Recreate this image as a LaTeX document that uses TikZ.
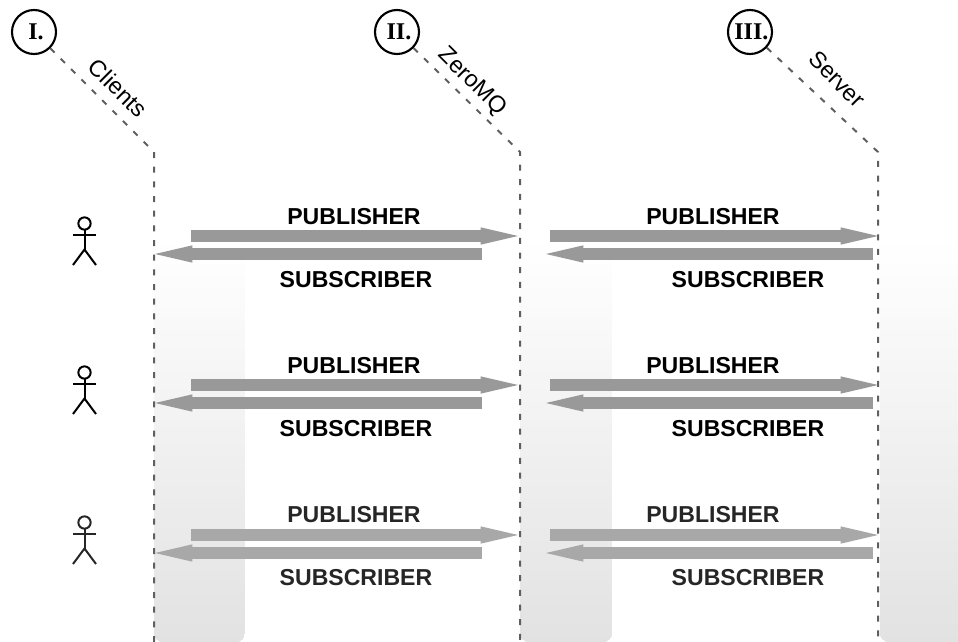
\documentclass[tikz,border=0pt]{standalone}
\usepackage{fontspec}
\setmainfont{Liberation Sans}
\newfontfamily\numfont{Liberation Serif}
\usetikzlibrary{arrows.meta}
\definecolor{rowA}{HTML}{999999}
\definecolor{rowB}{HTML}{999999}
\definecolor{rowC}{HTML}{A8A8A8}
\definecolor{inkA}{HTML}{000000}
\definecolor{inkB}{HTML}{000000}
\definecolor{inkC}{HTML}{262626}
\definecolor{dashgray}{HTML}{5F5F5F}
\definecolor{fadegray}{HTML}{E2E2E2}
\tikzset{
  stage/.style={circle,draw=black,line width=1.6pt,inner sep=0pt,minimum size=33pt,font=\numfont\bfseries\fontsize{18pt}{18pt}\selectfont},
  lifeline/.style={draw=dashgray,line width=1.5pt,dash pattern=on 4.5pt off 6.5pt},
  title/.style={rotate=-45,font=\fontsize{17.5pt}{17.5pt}\selectfont,inner sep=0pt},
  role/.style={font=\bfseries\fontsize{17.3pt}{17.3pt}\selectfont,inner sep=0pt},
  flow/.style={line width=9pt,-{Triangle[length=28pt,width=13pt,line width=0pt]}},
  actor/.style={line width=1.5pt},
}
\begin{document}
\begin{tikzpicture}[x=0.75pt,y=-0.75pt]
\useasboundingbox (0,0) rectangle (958,642);
% background bands: a linear fade built from overlapping fills
\foreach \xa/\xb in {154/245,520/612,880/990}{
  \begin{scope}
    \clip[rounded corners=7.5pt] (\xa,200) rectangle (\xb,642);
    \foreach \s in {0,...,66}{
      \pgfmathsetmacro{\ya}{240+6*\s}
      \pgfmathsetmacro{\pct}{100-\s*1.5}
      \fill[white!\pct!fadegray] (\xa,\ya) rectangle (\xb,642);
    }
  \end{scope}
}
% headers
\node[stage] (c1) at (34,32) {\hspace{3pt}I.};
\node[stage] (c2) at (397,32) {\hspace{3pt}II.};
\node[stage] (c3) at (750,32) {\hspace{2pt}III.};
\coordinate (k1) at (154,152); \coordinate (b1) at (154,642);
\coordinate (k2) at (520,152); \coordinate (b2) at (520,642);
\coordinate (k3) at (878,152); \coordinate (b3) at (878,642);
\draw[lifeline] (c1) -- (k1) -- (b1);
\draw[lifeline] (c2) -- (k2) -- (b2);
\draw[lifeline] (c3) -- (k3) -- (b3);
\node[title] (t1) at (118,88) {Clients};
\node[title] (t2) at (472,82) {ZeroMQ};
\node[title] (t3) at (837,79) {Server};
% rows
\foreach \r/\y/\cc/\ink/\up in {1/236/rowA/inkA/19,2/385/rowB/inkB/19,3/535/rowC/inkC/20}{
  \pgfmathsetmacro{\ys}{\y+18}
  \coordinate (pa\r) at (191,\y);  \coordinate (pb\r) at (518,\y);
  \coordinate (sa\r) at (482,\ys); \coordinate (sb\r) at (155,\ys);
  \coordinate (qa\r) at (550,\y);  \coordinate (qb\r) at (878,\y);
  \coordinate (ra\r) at (873,\ys); \coordinate (rb\r) at (546,\ys);
  \draw[flow,color=\cc] (pa\r) -- (pb\r);
  \draw[flow,color=\cc] (sa\r) -- (sb\r);
  \draw[flow,color=\cc] (qa\r) -- (qb\r);
  \draw[flow,color=\cc] (ra\r) -- (rb\r);
  \node[role,text=\ink] (lp\r) at (354,\y-\up) {PUBLISHER};
  \node[role,text=\ink] (ls\r) at (356,\y+63-\up) {SUBSCRIBER};
  \node[role,text=\ink] (lq\r) at (713,\y-\up) {PUBLISHER};
  \node[role,text=\ink] (lr\r) at (748,\y+63-\up) {SUBSCRIBER};
  % stick figure
  \begin{scope}[shift={(84.5,\y-12.5)}]
    \draw[actor,draw=\ink] (0,0) circle (4.6pt);
    \draw[actor,draw=\ink] (0,6.5) -- (0,26);
    \draw[actor,draw=\ink] (-11.5,11) -- (11.5,11);
    \draw[actor,draw=\ink] (-11.5,41.5) -- (0,26) -- (11.5,41.5);
  \end{scope}
}
\end{tikzpicture}
\end{document}
